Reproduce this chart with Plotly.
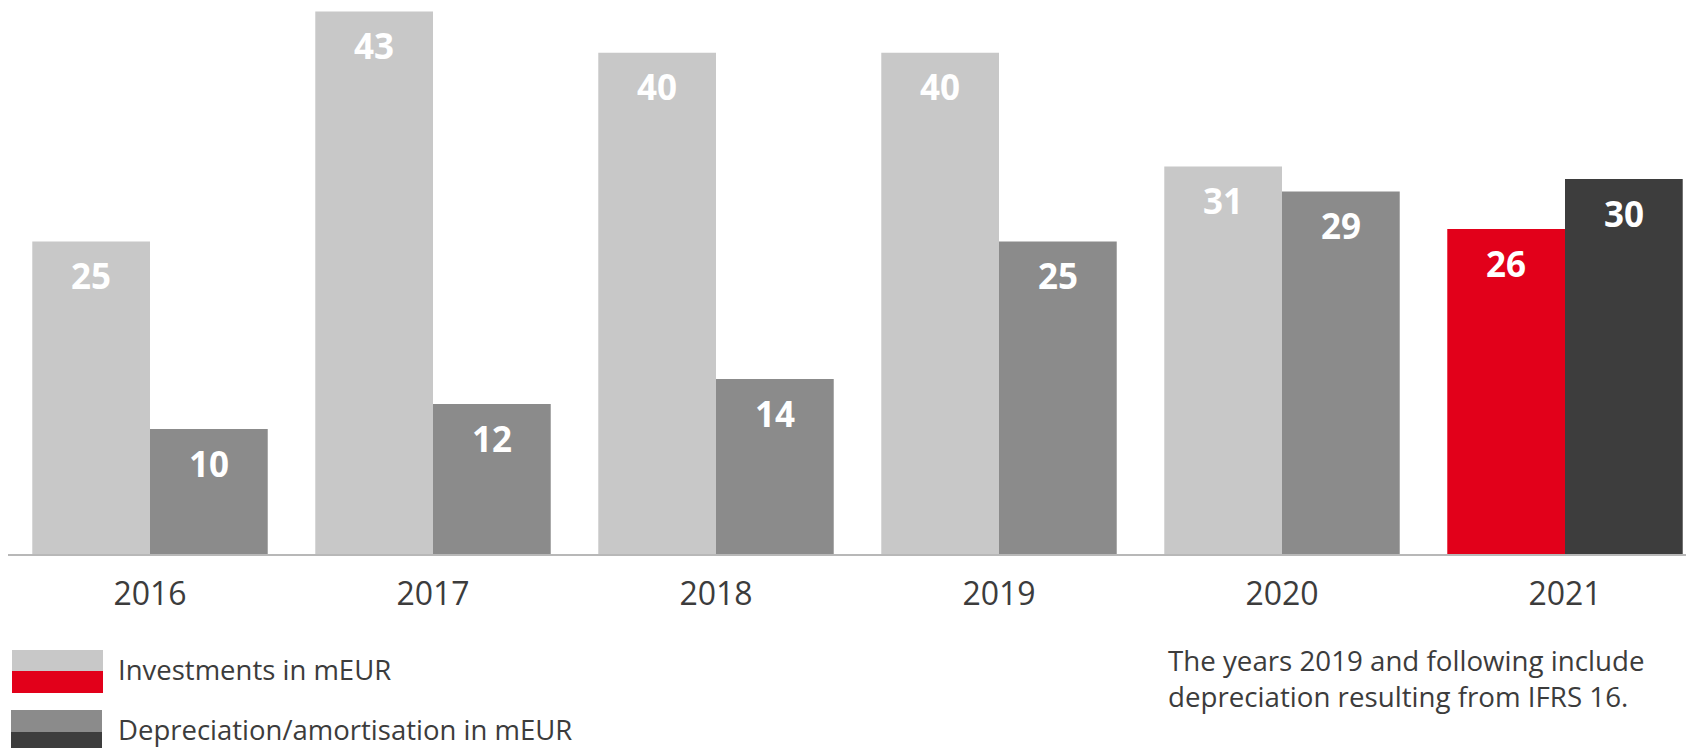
import plotly.graph_objects as go

years = [2016, 2017, 2018, 2019, 2020, 2021]
investments = [25.0, 43.4, 40.1, 40.1, 31.0, 26.0]
depreciation = [10.0, 12.0, 14.0, 25.0, 29.0, 30.0]
inv_colors = ["#c8c8c8"] * 5 + ["#e2001a"]
dep_colors = ["#8b8b8b"] * 5 + ["#3d3d3d"]
legend_labels = ["Investments in mEUR", "Depreciation/amortisation in mEUR"]
note_text = "The years 2019 and following include<br>depreciation resulting from IFRS 16."

# page body has an 8px default margin: figure is laid out in screen coords minus 8
OFF = 8
W, H = 1694 - OFF, 748 - OFF
BASE_SCREEN = 554          # baseline y on screen
ML, MR, MT = 0, 0, 0
MB = H - (BASE_SCREEN - OFF)
PW = W - ML - MR
PH = H - MT - MB
CAT_PX = 283.0
PX_PER_UNIT = 12.5

def px(x):
    return (x - OFF - ML) / PW

def py(y):
    return (H - MB - (y - OFF)) / PH

FONT = "Open Sans"
TEXT = "#3c3c3c"

fig = go.Figure()
fig.add_trace(go.Bar(x=years, y=investments, marker=dict(color=inv_colors, line=dict(width=0)),
                     name=legend_labels[0], showlegend=False, hoverinfo="skip"))
fig.add_trace(go.Bar(x=years, y=depreciation, marker=dict(color=dep_colors, line=dict(width=0)),
                     name=legend_labels[1], showlegend=False, hoverinfo="skip"))

bargap = 0.168
half = (1 - bargap) / 4
annotations = []
for series, sign in ((investments, -1), (depreciation, 1)):
    for yr, v in zip(years, series):
        annotations.append(dict(x=yr + sign * half, y=v, xref="x", yref="y", text=f"{v:.0f}",
                                showarrow=False, yshift=-34,
                                font=dict(family=FONT, size=35, color="white", weight="bold"),
                                xanchor="center", yanchor="middle"))

# legend texts
annotations.append(dict(x=px(116), y=py(669), xref="paper", yref="paper", text=legend_labels[0],
                        showarrow=False, xanchor="left", yanchor="middle",
                        font=dict(family=FONT, size=27.5, color=TEXT)))
annotations.append(dict(x=px(116), y=py(729), xref="paper", yref="paper", text=legend_labels[1],
                        showarrow=False, xanchor="left", yanchor="middle",
                        font=dict(family=FONT, size=27.5, color=TEXT)))
# note
annotations.append(dict(x=px(1166), y=py(678), xref="paper", yref="paper", text=note_text,
                        showarrow=False, xanchor="left", yanchor="middle", align="left",
                        font=dict(family=FONT, size=27.7, color=TEXT)))

shapes = []
swatches = [
    (12, 650, 671, 693, "#c8c8c8", "#e2001a"),
    (11, 710, 732, 760, "#8b8b8b", "#3d3d3d"),
]
for x0, y0, ym, y1, c1, c2 in swatches:
    shapes.append(dict(type="rect", xref="paper", yref="paper", x0=px(x0), x1=px(x0 + 91),
                       y0=py(y0), y1=py(ym), fillcolor=c1, line=dict(width=0), layer="above"))
    shapes.append(dict(type="rect", xref="paper", yref="paper", x0=px(x0), x1=px(x0 + 91),
                       y0=py(ym), y1=py(y1), fillcolor=c2, line=dict(width=0), layer="above"))

x_start = 2016 - (150 - OFF - ML) / CAT_PX

fig.update_layout(
    width=W, height=H,
    margin=dict(l=ML, r=MR, t=MT, b=MB, pad=0),
    paper_bgcolor="white", plot_bgcolor="white",
    barmode="group", bargap=bargap, bargroupgap=0,
    showlegend=False,
    annotations=annotations,
    shapes=shapes,
    xaxis=dict(range=[x_start, x_start + PW / CAT_PX], tickvals=years,
               ticktext=[str(y) for y in years],
               showgrid=False, zeroline=False, showline=True, linecolor="#b8b8b8", linewidth=2,
               ticks="", ticklabelstandoff=11,
               tickfont=dict(family=FONT, size=32, color=TEXT), fixedrange=True),
    yaxis=dict(range=[0, PH / PX_PER_UNIT], visible=False, showgrid=False, zeroline=False,
               fixedrange=True),
)

fig.write_html("out.html")
